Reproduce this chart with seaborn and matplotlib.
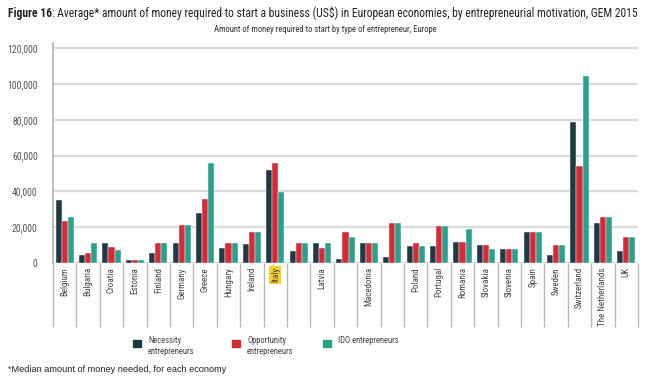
import numpy as np
import pandas as pd
import seaborn as sns
import matplotlib.pyplot as plt
from matplotlib.patches import Rectangle

countries = ["Belgium", "Bulgaria", "Croatia", "Estonia", "Finland", "Germany",
             "Greece", "Hungary", "Ireland", "Italy", "", "Latvia", "",
             "Macedonia", "", "Poland", "Portugal", "Romania", "Slovakia",
             "Slovenia", "Spain", "Sweden", "Switzerland", "The Netherlands", "UK"]
necessity = [35500, 4300, 11000, 1500, 5400, 11000, 27800, 8400, 10400, 51900,
             6900, 11000, 2000, 11000, 3200, 9300, 9300, 11800, 10100, 7650,
             17200, 4500, 79100, 22200, 6500]
opportunity = [23500, 5800, 9100, 1500, 11000, 21100, 35600, 11000, 17200, 55800,
               11000, 8400, 17200, 11000, 22200, 11000, 20500, 11800, 10100, 7650,
               17200, 10100, 54500, 25700, 14400]
ido = [25800, 11400, 7500, 1500, 11000, 21100, 55800, 11000, 17200, 39900,
       11000, 11000, 14400, 11000, 22200, 9300, 20500, 18800, 7650, 7650,
       17200, 10100, 104500, 25700, 14400]
series = ["Necessity entrepreneurs", "Opportunity entrepreneurs", "IDO entrepreneurs"]
colors = ["#1f3a42", "#d62a39", "#2aa18d"]

# unique keys so the blank labels stay separate categories
keys = [f"c{i}" for i in range(len(countries))]
df = pd.DataFrame({"key": keys * 3,
                   "value": necessity + opportunity + ido,
                   "type": np.repeat(series, len(keys))})

sns.set_theme(style="white")
plt.rcParams["font.family"] = ["Roboto Condensed", "DejaVu Sans"]

W, H = 645, 384
fig = plt.figure(figsize=(W / 100, H / 100), dpi=100)
ax = fig.add_axes([53 / W, 1 - 263 / H, 585 / W, 220 / H])

sns.barplot(data=df, x="key", y="value", hue="type", order=keys,
            hue_order=series, palette=colors, width=0.78, saturation=1,
            edgecolor="white", linewidth=0.3, legend=False, ax=ax)

ax.set_xlim(-0.5, len(keys) - 0.5)
ax.set_ylim(0, 123000)
ax.set_yticks(range(0, 120001, 20000))
ax.set_yticklabels([f"{v:,}" for v in range(0, 120001, 20000)],
                   fontsize=7, color="#555555")
ax.yaxis.grid(True, color="#d9d9d9", linewidth=1.6)
ax.set_axisbelow(True)
for s in ["top", "right", "bottom"]:
    ax.spines[s].set_visible(False)
ax.spines["left"].set_color("#b0b0b0")
ax.spines["left"].set_linewidth(1.2)
ax.set_xlabel("")
ax.set_ylabel("")

# category separators below the axis
ax.set_xticks(np.arange(-0.5, len(keys)), minor=True)
ax.tick_params(axis="x", which="minor", length=46, width=1, color="#b8b8b8",
               bottom=True)
ax.tick_params(axis="x", which="major", length=0, pad=3)
ax.tick_params(axis="y", length=0, pad=11)
ax.set_xticks(range(len(keys)))
ax.set_xticklabels(countries, rotation=90, va="top", ha="center",
                   fontsize=6.5, color="#444444")
for lab in ax.get_xticklabels():
    if lab.get_text() == "Italy":
        lab.set_bbox(dict(facecolor="#f4d22a", edgecolor="none", pad=1.2))

# title: bold lead-in followed by regular text, fitted to the reference width
title_rest = (": Average* amount of money required to start a business (US$) in "
              "European economies, by entrepreneurial motivation, GEM 2015")
fs = 8.8
for i in range(4):
    t1 = fig.text(8 / W, 1 - 13 / H, "Figure 16", fontsize=fs,
                  fontweight="bold", va="center", color="#222222")
    fig.canvas.draw()
    x1 = t1.get_window_extent().x1
    t2 = fig.text(x1 / W, 1 - 13 / H, title_rest, fontsize=fs, va="center",
                  color="#222222")
    fig.canvas.draw()
    right = t2.get_window_extent().x1
    if abs(right - 637) < 2 or i == 3:
        break
    t1.remove()
    t2.remove()
    fs = fs * (637 - 8) / (right - 8)

fig.text(325 / W, 1 - 30 / H,
         "Amount of money required to start by type of entrepreneur, Europe",
         fontsize=6.2, ha="center", va="center", color="#333333")

# legend
leg_x = [133, 232, 323]
leg_lab = ["Necessity\nentrepreneurs", "Opportunity\nentrepreneurs", "IDO entrepreneurs"]
for x, lab, c in zip(leg_x, leg_lab, colors):
    fig.add_artist(Rectangle((x / W, 1 - 347 / H), 8 / W, 7 / H,
                             transform=fig.transFigure, color=c))
    fig.text((x + 15) / W, 1 - 336 / H, lab, fontsize=6.2, va="top",
             color="#444444", linespacing=1.3)

fig.text(8 / W, 1 - 369 / H, "*Median amount of money needed, for each economy",
         fontsize=6.6, va="center", color="#222222",
         family=["Liberation Sans", "DejaVu Sans"])

fig.savefig("out.png", dpi=100)
